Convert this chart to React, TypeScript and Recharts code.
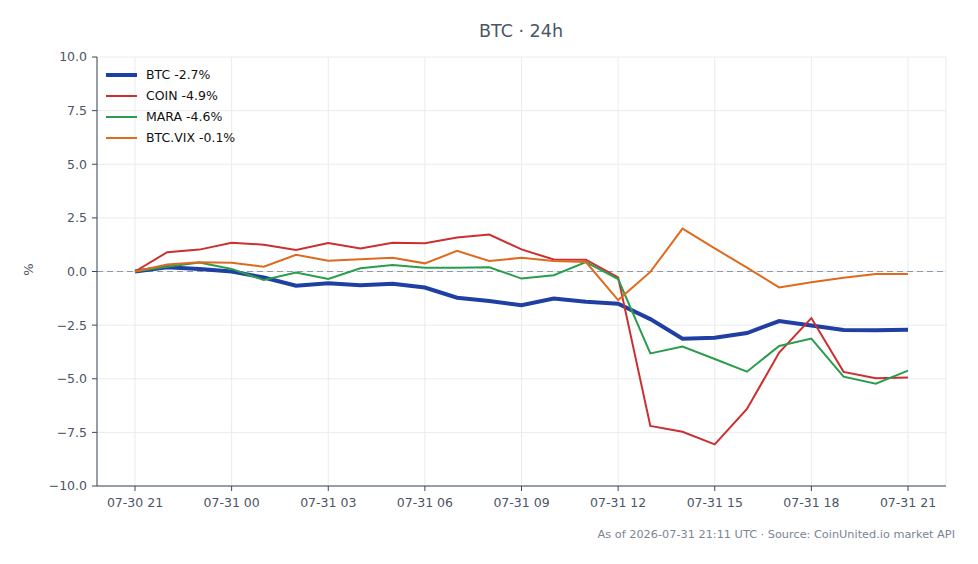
import React from 'react';
import { LineChart, Line, XAxis, YAxis, CartesianGrid, ReferenceLine } from 'recharts';

// hourly labels, 07-30 21 -> 07-31 21
const HOURS = [
  '07-30 21', '07-30 22', '07-30 23', '07-31 00', '07-31 01', '07-31 02', '07-31 03', '07-31 04', '07-31 05',
  '07-31 06', '07-31 07', '07-31 08', '07-31 09', '07-31 10', '07-31 11', '07-31 12', '07-31 13', '07-31 14',
  '07-31 15', '07-31 16', '07-31 17', '07-31 18', '07-31 19', '07-31 20', '07-31 21',
];

const BTC = [0, 0.2, 0.12, 0.0, -0.28, -0.66, -0.55, -0.64, -0.57, -0.75, -1.22, -1.38, -1.57, -1.26, -1.41, -1.5, -2.22, -3.13, -3.09, -2.87, -2.31, -2.52, -2.73, -2.74, -2.72];
const COIN = [0, 0.9, 1.02, 1.34, 1.25, 1.0, 1.33, 1.07, 1.34, 1.32, 1.58, 1.72, 1.03, 0.56, 0.55, -0.27, -7.2, -7.47, -8.06, -6.41, -3.78, -2.17, -4.68, -4.98, -4.94];
const MARA = [0, 0.22, 0.42, 0.12, -0.4, -0.05, -0.35, 0.15, 0.3, 0.17, 0.18, 0.2, -0.33, -0.17, 0.44, -0.35, -3.82, -3.5, -4.08, -4.67, -3.47, -3.13, -4.9, -5.23, -4.62];
const VIX = [0, 0.33, 0.43, 0.41, 0.22, 0.78, 0.5, 0.57, 0.64, 0.38, 0.96, 0.49, 0.64, 0.49, 0.44, -1.33, -0.02, 2.0, 1.08, 0.18, -0.74, -0.5, -0.29, -0.12, -0.12];

const SERIES = [
  { key: 'btc', label: 'BTC -2.7%', color: '#1f3fa3', width: 4 },
  { key: 'coin', label: 'COIN -4.9%', color: '#cc2f2f', width: 2 },
  { key: 'mara', label: 'MARA -4.6%', color: '#2a9d4c', width: 2 },
  { key: 'vix', label: 'BTC.VIX -0.1%', color: '#de6a1e', width: 2 },
];

const X_TICKS = [0, 3, 6, 9, 12, 15, 18, 21, 24];
const Y_TICKS = [-10, -7.5, -5, -2.5, 0, 2.5, 5, 7.5, 10];

const data = HOURS.map((h, i) => ({ x: i, label: h, btc: BTC[i], coin: COIN[i], mara: MARA[i], vix: VIX[i] }));

const FONT = '"DejaVu Sans", sans-serif';
const AXIS = '#3b4656';
const TEXT = '#4a5566';

const fmtY = (v: number) => v.toFixed(1).replace('-', '\u2212');

export default function App() {
  return (
    <div style={{ position: 'absolute', left: 0, top: 0, width: 978, height: 564, background: '#fff', fontFamily: FONT }}>
      <div style={{ position: 'absolute', top: 21, left: 0, width: 1042, textAlign: 'center', fontSize: 17.5, color: '#4a5566' }}>
        BTC · 24h
      </div>
      <div style={{ position: 'absolute', left: 22, top: 262, fontSize: 13, color: TEXT, transform: 'rotate(-90deg)' }}>%</div>
      <LineChart width={978} height={564} data={data} margin={{ top: 57, right: 32, bottom: 48, left: 37 }}>
        <CartesianGrid stroke="#e8ebef" strokeWidth={1} />
        <XAxis
          dataKey="x"
          type="number"
          domain={[-1.18, 25.18]}
          ticks={X_TICKS}
          tickFormatter={(v: number) => HOURS[v]}
          height={30}
          tickSize={5}
          stroke={AXIS}
          tick={{ fill: TEXT, fontSize: 12.5, fontFamily: FONT }}
          tickMargin={7}
        />
        <YAxis
          type="number"
          domain={[-10, 10]}
          ticks={Y_TICKS}
          tickFormatter={fmtY}
          width={60}
          tickSize={5}
          stroke={AXIS}
          tick={{ fill: TEXT, fontSize: 12.5, fontFamily: FONT }}
          tickMargin={5}
        />
        <ReferenceLine y={0} stroke="#8c99aa" strokeDasharray="6 4" strokeWidth={1} />
        {SERIES.map(s => (
          <Line
            key={s.key}
            dataKey={s.key}
            name={s.label}
            stroke={s.color}
            strokeWidth={s.width}
            dot={false}
            type="linear"
            isAnimationActive={false}
          />
        ))}
      </LineChart>
      {/* legend, upper left inside the plot */}
      <div style={{ position: 'absolute', left: 106, top: 64, fontSize: 12.5, color: '#111' }}>
        {SERIES.map(s => (
          <div key={s.key} style={{ display: 'flex', alignItems: 'center', height: 21 }}>
            <div style={{ width: 31, height: s.width, background: s.color, marginRight: 9 }} />
            <span>{s.label}</span>
          </div>
        ))}
      </div>
      <div style={{ position: 'absolute', right: 23, top: 528, fontSize: 11.3, color: '#7a8594' }}>
        As of 2026-07-31 21:11 UTC · Source: CoinUnited.io market API
      </div>
    </div>
  );
}
